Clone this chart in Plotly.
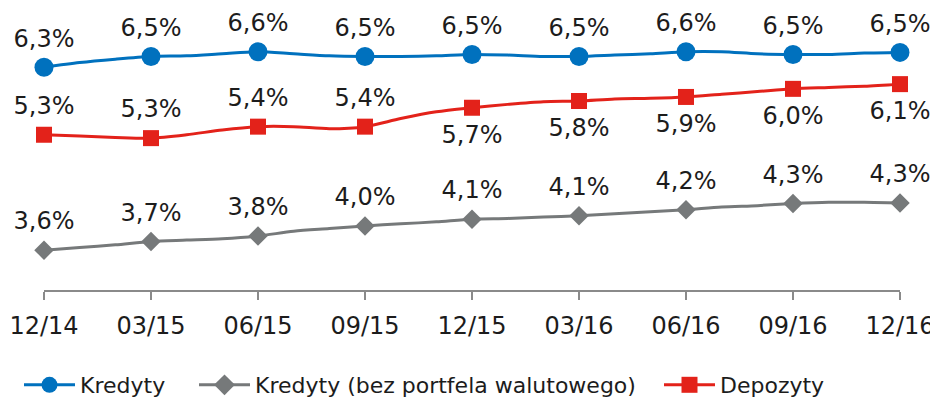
import plotly.graph_objects as go

# ---- data (monthly, 12/14 .. 12/16) ----
month_index = list(range(25))
quarter_ticks = ["12/14", "03/15", "06/15", "09/15", "12/15", "03/16", "06/16", "09/16", "12/16"]

kredyty = [6.30, 6.37, 6.42, 6.46, 6.47, 6.50, 6.53, 6.50, 6.47, 6.46, 6.46, 6.47, 6.49,
           6.48, 6.46, 6.46, 6.48, 6.50, 6.53, 6.53, 6.50, 6.49, 6.49, 6.51, 6.52]
kredyty_bez = [3.59, 3.63, 3.67, 3.72, 3.74, 3.76, 3.80, 3.87, 3.91, 3.95, 3.98, 4.01, 4.05,
               4.06, 4.08, 4.10, 4.13, 4.16, 4.19, 4.23, 4.25, 4.28, 4.30, 4.30, 4.29]
depozyty = [5.30, 5.28, 5.26, 5.25, 5.30, 5.37, 5.42, 5.42, 5.39, 5.42, 5.54, 5.64, 5.70,
            5.75, 5.79, 5.80, 5.83, 5.84, 5.86, 5.90, 5.94, 5.98, 6.00, 6.02, 6.05]

kredyty_labels = ["6,3%", "6,5%", "6,6%", "6,5%", "6,5%", "6,5%", "6,6%", "6,5%", "6,5%"]
kredyty_bez_labels = ["3,6%", "3,7%", "3,8%", "4,0%", "4,1%", "4,1%", "4,2%", "4,3%", "4,3%"]
depozyty_labels = ["5,3%", "5,3%", "5,4%", "5,4%", "5,7%", "5,8%", "5,9%", "6,0%", "6,1%"]

series_names = ["Kredyty", "Kredyty (bez portfela walutowego)", "Depozyty"]

# ---- styles ----
BLUE = "#0071BE"
GRAY = "#76797A"
RED = "#E3221A"
TEXT = "#1c1c1c"
FONT = "DejaVu Sans"
LABEL_SIZE = 24

# the page body has an 8px default margin, so the figure is drawn 8px smaller
FIG_W, FIG_H = 930, 392
PAGE_OFFSET = 8

qx = month_index[::3]

fig = go.Figure()

def add_series(values, labels, color, symbol, msize, text_pos, text_sizes):
    # smoothed monthly line
    fig.add_trace(go.Scatter(
        x=month_index, y=values, mode="lines",
        line=dict(color=color, width=3, shape="spline", smoothing=0.8),
        showlegend=False, hoverinfo="skip", cliponaxis=False))
    # quarterly markers
    fig.add_trace(go.Scatter(
        x=qx, y=values[::3], mode="markers",
        marker=dict(color=color, symbol=symbol, size=msize, line=dict(width=0)),
        showlegend=False, cliponaxis=False))
    # data labels
    fig.add_trace(go.Scatter(
        x=qx, y=values[::3], mode="markers+text",
        text=labels, textposition=text_pos,
        textfont=dict(family=FONT, size=LABEL_SIZE, color=TEXT),
        marker=dict(size=text_sizes, opacity=0),
        showlegend=False, hoverinfo="skip", cliponaxis=False))

add_series(kredyty, kredyty_labels, BLUE, "circle", 19,
           ["top center"] * 9, [21.5] * 9)
add_series(kredyty_bez, kredyty_bez_labels, GRAY, "diamond", 15,
           ["top center"] * 9, [22] * 9)
add_series(depozyty, depozyty_labels, RED, "square", 16,
           ["top center"] * 4 + ["bottom center"] * 5, [22] * 4 + [26] * 5)

# legend entries, each in its own legend box so they sit where the original places them
legend_ids = ["legend", "legend2", "legend3"]
legend_left_px = [19, 194, 659]
for name, color, symbol, lid in zip(series_names, [BLUE, GRAY, RED],
                                    ["circle", "diamond", "square"], legend_ids):
    fig.add_trace(go.Scatter(
        x=[None], y=[None], mode="lines+markers", name=name, legend=lid,
        line=dict(color=color, width=3),
        marker=dict(color=color, symbol=symbol, size=16)))

legend_common = dict(orientation="h", xref="container", yref="container",
                     xanchor="left", yanchor="middle",
                     y=1 - (385 - PAGE_OFFSET) / FIG_H,
                     font=dict(family=FONT, size=22, color=TEXT), itemwidth=51,
                     bgcolor="rgba(0,0,0,0)", borderwidth=0)

fig.update_layout(
    width=FIG_W, height=FIG_H,
    margin=dict(l=36, r=38, t=12, b=110, autoexpand=False),
    paper_bgcolor="white", plot_bgcolor="white",
    font=dict(family=FONT, size=24, color=TEXT),
    showlegend=True,
    legend=dict(x=(legend_left_px[0] - PAGE_OFFSET) / FIG_W, **legend_common),
    legend2=dict(x=(legend_left_px[1] - PAGE_OFFSET) / FIG_W, **legend_common),
    legend3=dict(x=(legend_left_px[2] - PAGE_OFFSET) / FIG_W, **legend_common),
    xaxis=dict(range=[0, 24], tickvals=qx, ticktext=quarter_ticks,
               showline=True, linecolor="#8a8a8a", linewidth=2,
               ticks="outside", ticklen=8, tickwidth=2, tickcolor="#8a8a8a",
               ticklabelstandoff=5, automargin=False,
               showgrid=False, zeroline=False,
               tickfont=dict(family=FONT, size=24, color=TEXT)),
    yaxis=dict(range=[3, 7], visible=False, showgrid=False, zeroline=False,
               automargin=False),
)

fig.write_html("out.html")
